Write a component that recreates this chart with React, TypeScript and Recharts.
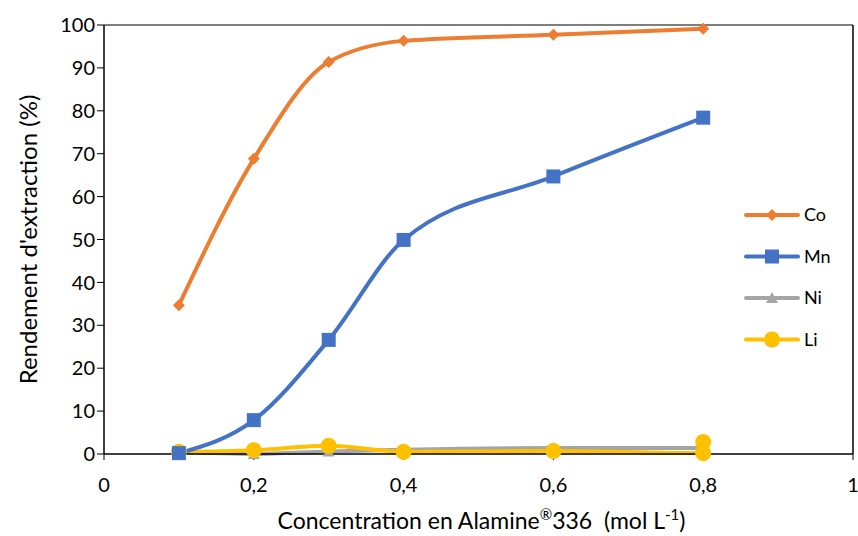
import { LineChart, Line, XAxis, YAxis, ReferenceLine } from "recharts";

const coX = [0.1, 0.2, 0.3, 0.4, 0.6, 0.8];
const coY = [34.7, 68.8, 91.4, 96.3, 97.7, 99.1];
const mnX = [0.1, 0.2, 0.3, 0.4, 0.6, 0.8];
const mnY = [0.2, 7.9, 26.6, 49.9, 64.7, 78.4];
const niX = [0.1, 0.2, 0.3, 0.4, 0.6, 0.8];
const niY = [0.5, 0.0, 0.6, 1.0, 1.4, 1.4];
const liX = [0.1, 0.2, 0.3, 0.4, 0.6, 0.8, 0.8];
const liY = [0.5, 0.9, 1.9, 0.5, 0.7, 0.2, 2.8];

const xTicks = [0, 0.2, 0.4, 0.6, 0.8, 1];
const yTicks = [0, 10, 20, 30, 40, 50, 60, 70, 80, 90, 100];

const toPoints = (xs: number[], ys: number[]) =>
  xs.map((x, i) => ({ x, y: ys[i] }));

const coData = toPoints(coX, coY);
const mnData = toPoints(mnX, mnY);
const niData = toPoints(niX, niY);
const liData = toPoints(liX, liY);

const FONT = "Lato, 'Open Sans', sans-serif";

const colors = {
  Co: "#ED7D31",
  Mn: "#4472C4",
  Ni: "#A5A5A5",
  Li: "#FFC000",
};

function Marker({ kind, cx, cy, color }: { kind: string; cx: number; cy: number; color: string }) {
  if (kind === "Co") {
    const r = 6;
    return (
      <path
        d={`M${cx},${cy - r} L${cx + r},${cy} L${cx},${cy + r} L${cx - r},${cy} Z`}
        fill={color}
      />
    );
  }
  if (kind === "Mn") {
    return <rect x={cx - 7} y={cy - 7} width={14} height={14} fill={color} />;
  }
  if (kind === "Ni") {
    return (
      <path d={`M${cx},${cy - 6} L${cx + 6},${cy + 5} L${cx - 6},${cy + 5} Z`} fill={color} />
    );
  }
  return <circle cx={cx} cy={cy} r={8} fill={color} />;
}

const makeDot = (kind: string, color: string) => (props: any) => {
  const { cx, cy, index } = props;
  if (cx == null || cy == null) return <g key={index} />;
  return (
    <g key={`${kind}-${index}`}>
      <Marker kind={kind} cx={cx} cy={cy} color={color} />
    </g>
  );
};

function LegendBox() {
  const names = ["Co", "Mn", "Ni", "Li"] as const;
  return (
    <svg
      width={110}
      height={160}
      style={{ position: "absolute", left: 730, top: 205, overflow: "visible" }}
    >
      {names.map((n, i) => {
        const y = 10 + i * 41.5;
        return (
          <g key={n}>
            <line x1={16} y1={y} x2={68} y2={y} stroke={colors[n]} strokeWidth={4} strokeLinecap="round" />
            <Marker kind={n} cx={42} cy={y} color={colors[n]} />
            <text x={74} y={y + 6} fontSize={18} fontFamily={FONT} fill="#000">
              {n}
            </text>
          </g>
        );
      })}
    </svg>
  );
}

function XLabel(props: any) {
  const vb = props.viewBox || {};
  const cx = (vb.x ?? 0) + (vb.width ?? 0) / 2;
  return (
    <text x={cx + 3} y={529} textAnchor="middle" fontSize={23} fontFamily={FONT} fill="#000">
      Concentration en Alamine
      <tspan fontSize={15} dy={-9}>®</tspan>
      <tspan dy={9}>336{"\u00a0\u00a0"}(mol L</tspan>
      <tspan fontSize={15} dy={-9}>-1</tspan>
      <tspan dy={9}>)</tspan>
    </text>
  );
}

export default function App() {
  return (
    <div style={{ position: "absolute", left: 0, top: 0, background: "#fff", width: 858, height: 536 }}>
      <LineChart
        width={858}
        height={536}
        margin={{ top: 25, right: 5, bottom: 0, left: 0 }}
      >
        <XAxis
          dataKey="x"
          type="number"
          domain={[0, 1]}
          ticks={xTicks}
          tickFormatter={(v: number) => String(v).replace(".", ",")}
          allowDuplicatedCategory={false}
          stroke="#000"
          tick={{ fill: "#000", fontSize: 20, fontFamily: FONT }}
          tickSize={6}
          tickMargin={18}
          height={82}
          axisLine={{ stroke: "#000", strokeWidth: 1.5 }}
          label={<XLabel />}
        />
        <YAxis
          type="number"
          domain={[0, 100]}
          ticks={yTicks}
          interval={0}
          width={104}
          stroke="#000"
          tick={{ fill: "#000", fontSize: 20, fontFamily: FONT }}
          tickSize={7}
          axisLine={{ stroke: "#000", strokeWidth: 1.5 }}
          label={{
            value: "Rendement d'extraction (%)",
            angle: -90,
            position: "insideLeft",
            offset: 28,
            style: { textAnchor: "middle" },
            fill: "#000",
            fontSize: 24,
            fontFamily: FONT,
          }}
        />
        <ReferenceLine y={100} stroke="#555" strokeWidth={1.5} />
        <ReferenceLine x={1} stroke="#000" strokeWidth={1.5} />
        <Line
          data={niData}
          dataKey="y"
          name="Ni"
          type="monotone"
          stroke={colors.Ni}
          strokeWidth={4}
          dot={makeDot("Ni", colors.Ni)}
          isAnimationActive={false}
        />
        <Line
          data={liData}
          dataKey="y"
          name="Li"
          type="monotone"
          stroke={colors.Li}
          strokeWidth={4}
          dot={makeDot("Li", colors.Li)}
          isAnimationActive={false}
        />
        <Line
          data={mnData}
          dataKey="y"
          name="Mn"
          type="monotone"
          stroke={colors.Mn}
          strokeWidth={4}
          dot={makeDot("Mn", colors.Mn)}
          isAnimationActive={false}
        />
        <Line
          data={coData}
          dataKey="y"
          name="Co"
          type="monotone"
          stroke={colors.Co}
          strokeWidth={4}
          dot={makeDot("Co", colors.Co)}
          isAnimationActive={false}
        />
      </LineChart>
      <LegendBox />
    </div>
  );
}
